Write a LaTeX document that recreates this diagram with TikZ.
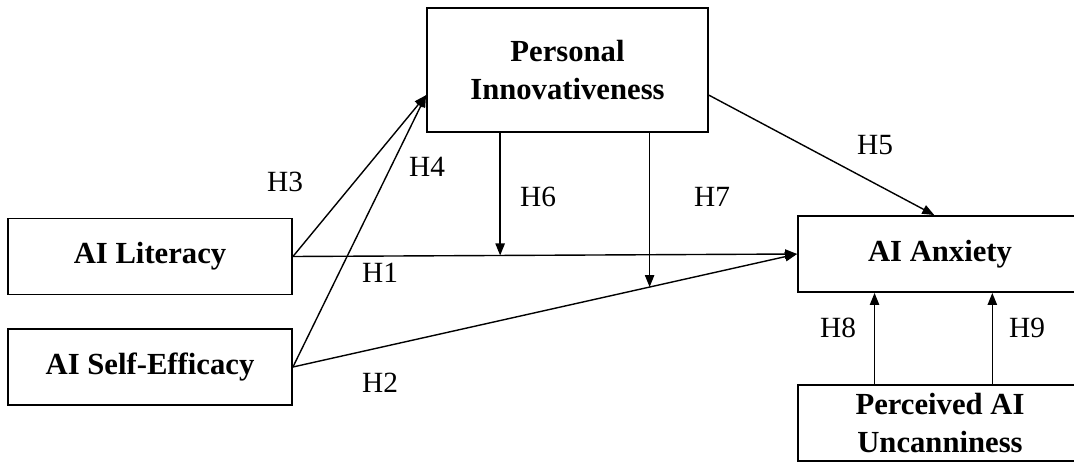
\documentclass[tikz,border=0pt]{standalone}
\usepackage{fontspec}
\setmainfont{Liberation Serif}
\usetikzlibrary{positioning,calc,arrows.meta}

\begin{document}
\begin{tikzpicture}[x=0.75pt, y=-0.75pt,
	box/.style={draw, line width=1.4pt, minimum width=284*0.75pt, minimum height=76*0.75pt, inner sep=0pt, align=center, font=\fontsize{23}{29}\selectfont\bfseries},
	hyp/.style={font=\fontsize{22}{26}\selectfont, inner sep=0pt},
	path/.style={line width=1.05pt, -{Triangle[length=9pt, width=7pt]}}]
	\useasboundingbox (0,0) rectangle (1074,463);
	\clip (0,0) rectangle (1074,463);
	% constructs
	\node[box, minimum width=281*0.75pt, minimum height=124*0.75pt] (PI) at (567.5,70) {Personal\\Innovativeness};
	\node[box] (LIT) at (150,256.5) {AI Literacy};
	\node[box] (SE) at (150,367) {AI Self-Efficacy};
	\node[box] (ANX) at (940,254) {AI Anxiety};
	\node[box] (UNC) at (940,423) {Perceived AI\\Uncanniness};
	% anchor points
	\coordinate (piw) at ($(PI.south west)!0.3!(PI.north west)$);
	\coordinate (pie) at ($(PI.south east)!0.3!(PI.north east)$);
	\coordinate (anxn) at ($(ANX.north west)!0.48!(ANX.north east)$);
	\coordinate (m6) at ($(LIT.east)!0.411!(ANX.west)$);
	\coordinate (m7) at ($(SE.east)!0.7075!(ANX.west)$);
	\coordinate (u8) at ($(UNC.north west)!0.271!(UNC.north east)$);
	\coordinate (u9) at ($(UNC.north west)!0.683!(UNC.north east)$);
	% paths
	\draw[path] (LIT.east) -- (piw);
	\draw[path] (SE.east) -- (piw);
	\draw[path] (LIT.east) -- (ANX.west);
	\draw[path] (SE.east) -- (ANX.west);
	\draw[path] (pie) -- (anxn);
	\draw[path] (m6 |- PI.south) -- (m6);
	\draw[path] (m7 |- PI.south) -- (m7);
	\draw[path] (u8) -- (u8 |- ANX.south);
	\draw[path] (u9) -- (u9 |- ANX.south);
	% labels
	\node[hyp] (h1) at (380,273) {H1};
	\node[hyp] (h2) at (380,383) {H2};
	\node[hyp] (h3) at (285,182) {H3};
	\node[hyp] (h4) at (427,167) {H4};
	\node[hyp] (h5) at (875,145) {H5};
	\node[hyp] (h6) at (538,197) {H6};
	\node[hyp] (h7) at (712,197) {H7};
	\node[hyp] (h8) at (838,328) {H8};
	\node[hyp] (h9) at (1027,328) {H9};
\end{tikzpicture}
\end{document}
